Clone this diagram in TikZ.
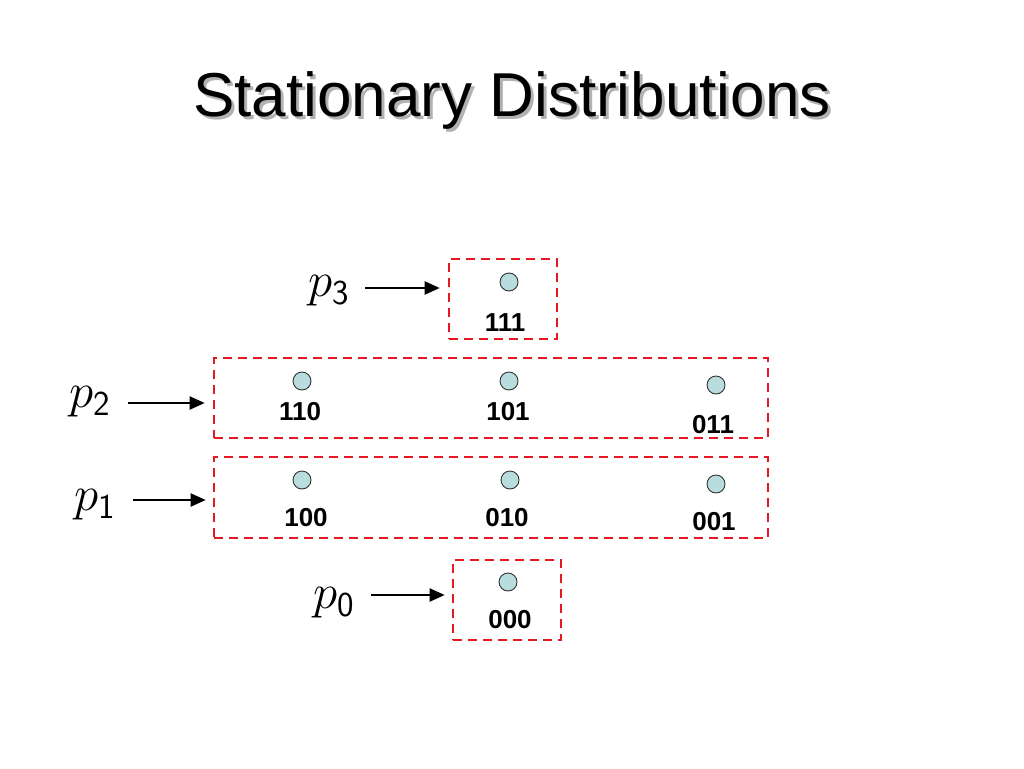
\RequirePackage{fix-cm}
\documentclass[tikz,border=0pt]{standalone}
\usepackage{fontspec}
\newfontfamily\arial{Liberation Sans}
\usetikzlibrary{arrows.meta}
\definecolor{boxred}{RGB}{230,25,35}
\definecolor{dotfill}{RGB}{185,220,222}
\tikzset{
  dbox/.style={draw=boxred, line width=2.6pt, dash pattern=on 9pt off 6pt, inner sep=0pt},
  dot/.style={circle, draw=black!80, line width=0.9pt, fill=dotfill, minimum size=18pt, inner sep=0pt},
  lab/.style={font=\arial\bfseries\fontsize{26}{28}\selectfont, inner sep=0pt},
  plab/.style={font=\fontsize{49}{56}\selectfont, inner sep=0pt, anchor=center},
  titlefont/.style={font=\arial\fontsize{62}{70}\selectfont, inner sep=0pt},
  arr/.style={-{Triangle[length=15pt,width=13pt]}, line width=2pt, black}
}
\newcommand{\psub}[1]{$p_{\mbox{\fontsize{35}{38}\selectfont\sffamily #1}}$}
\begin{document}
\begin{tikzpicture}[x=1pt,y=-1pt]
\useasboundingbox (0,0) rectangle (1024,768);
% title with shadow
\node[titlefont, text=black!30] (titleshadow) at (515,103) {Stationary Distributions};
\node[titlefont] (title) at (512,100) {Stationary Distributions};
% boxes
\node[dbox, minimum width=108pt, minimum height=80pt] (b3) at (503,299) {};
\node[dbox, minimum width=554pt, minimum height=80pt] (b2) at (491,398) {};
\node[dbox, minimum width=554pt, minimum height=81pt] (b1) at (491,497.5) {};
\node[dbox, minimum width=108pt, minimum height=80pt] (b0) at (507,600) {};
% dots
\node[dot] (d111) at (509,282) {};
\node[dot] (d110) at (302,381) {};
\node[dot] (d101) at (509,381) {};
\node[dot] (d011) at (716,385) {};
\node[dot] (d100) at (302,480) {};
\node[dot] (d010) at (510,480) {};
\node[dot] (d001) at (716,484) {};
\node[dot] (d000) at (508,582) {};
% state labels
\node[lab] (l111) at (505,323) {111};
\node[lab] (l110) at (300,412) {110};
\node[lab] (l101) at (508,412) {101};
\node[lab] (l011) at (713,425) {011};
\node[lab] (l100) at (306,518) {100};
\node[lab] (l010) at (507,518) {010};
\node[lab] (l001) at (714,522) {001};
\node[lab] (l000) at (510,620) {000};
% probability labels
\node[plab] (p3) at (329,291) {\psub{3}};
\node[plab] (p2) at (90,402) {\psub{2}};
\node[plab] (p1) at (95,505) {\psub{1}};
\node[plab] (p0) at (334,603) {\psub{0}};
% arrows
\coordinate (a3) at (365,288);
\coordinate (a2) at (128,403);
\coordinate (a1) at (133,500);
\coordinate (a0) at (371,595);
\draw[arr, shorten >=8pt] (a3) -- (a3 -| b3.west);
\draw[arr, shorten >=8pt] (a2) -- (a2 -| b2.west);
\draw[arr, shorten >=7pt] (a1) -- (a1 -| b1.west);
\draw[arr, shorten >=7pt] (a0) -- (a0 -| b0.west);
\end{tikzpicture}
\end{document}
